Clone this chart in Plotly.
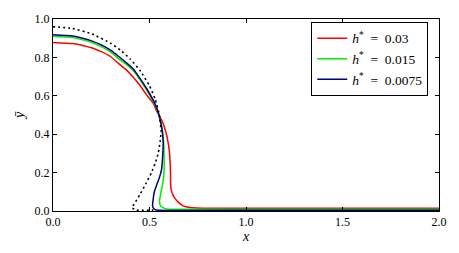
import plotly.graph_objects as go

red_x = [0.0, 0.1, 0.158, 0.2, 0.25, 0.296, 0.339, 0.38, 0.416, 0.45, 0.485, 0.52, 0.537, 0.557, 0.571, 0.585, 0.597,
         0.604, 0.607, 0.609, 0.609, 0.61, 0.614, 0.621, 0.631, 0.65, 0.674, 0.71, 0.743, 0.8, 1.0, 1.5, 2.0]
red_y = [0.878, 0.872, 0.861, 0.85, 0.83, 0.806, 0.769, 0.735, 0.697, 0.655, 0.605, 0.56, 0.521, 0.485, 0.454, 0.41, 0.354,
         0.3, 0.25, 0.2, 0.16, 0.13, 0.105, 0.085, 0.067, 0.045, 0.027, 0.018, 0.015, 0.014, 0.014, 0.014, 0.014]

green_x = [0.0, 0.1, 0.158, 0.2, 0.25, 0.296, 0.339, 0.38, 0.416, 0.485, 0.537, 0.563, 0.573, 0.576, 0.576, 0.57,
           0.557, 0.552, 0.556, 0.563, 0.575, 0.588, 0.62, 1.0, 1.5, 2.0]
green_y = [0.91, 0.903, 0.89, 0.878, 0.856, 0.83, 0.794, 0.763, 0.73, 0.63, 0.535, 0.44, 0.36, 0.27, 0.22, 0.15,
           0.085, 0.052, 0.03, 0.022, 0.015, 0.011, 0.009, 0.009, 0.009, 0.009]

blue_x = [0.0, 0.1, 0.158, 0.2, 0.25, 0.296, 0.339, 0.38, 0.416, 0.485, 0.537, 0.563, 0.571, 0.569, 0.563, 0.55,
          0.537, 0.525, 0.52, 0.516, 0.52, 0.528, 0.55, 1.0, 1.5, 2.0]
blue_y = [0.918, 0.911, 0.898, 0.886, 0.865, 0.839, 0.806, 0.772, 0.739, 0.638, 0.538, 0.437, 0.354, 0.3, 0.22, 0.17,
          0.136, 0.1, 0.069, 0.027, 0.015, 0.008, 0.004, 0.004, 0.004, 0.004]

ref_x = [0.0, 0.1, 0.2, 0.3, 0.35, 0.4, 0.45, 0.5, 0.53, 0.55, 0.56, 0.555, 0.545, 0.53, 0.51,
         0.48, 0.45, 0.42, 0.408, 0.43, 0.52]
ref_y = [0.96, 0.951, 0.923, 0.873, 0.837, 0.792, 0.733, 0.652, 0.581, 0.505, 0.42, 0.36, 0.3, 0.25, 0.2,
         0.14, 0.085, 0.035, 0.019, 0.005, 0.005]

labels = ["<i>h</i><sup>*</sup>\u2002=\u20020.03",
          "<i>h</i><sup>*</sup>\u2002=\u20020.015",
          "<i>h</i><sup>*</sup>\u2002=\u20020.0075"]
colors = ["#ff0000", "#00ee00", "#000080"]

x_ticks = [0.0, 0.5, 1.0, 1.5, 2.0]
y_ticks = [0.0, 0.2, 0.4, 0.6, 0.8, 1.0]

fig = go.Figure()
for xs, ys, lab, col in zip([red_x, green_x, blue_x], [red_y, green_y, blue_y], labels, colors):
    fig.add_trace(go.Scatter(x=xs, y=ys, mode="lines", name=lab,
                             line=dict(color=col, width=1.5, shape="spline", smoothing=0.5)))
fig.add_trace(go.Scatter(x=ref_x, y=ref_y, mode="lines", showlegend=False,
                         line=dict(color="black", width=1.6, dash="2px,3px", shape="spline", smoothing=0.4)))

font_family = "Liberation Serif"
axis_common = dict(showline=True, linecolor="black", linewidth=1, mirror="ticks", ticks="inside",
                   ticklen=4, tickcolor="black", showgrid=False, zeroline=False,
                   tickfont=dict(family=font_family, size=12, color="black"))
fig.update_xaxes(range=[0, 2], tickvals=x_ticks, ticktext=[f"{v:.1f}" for v in x_ticks],
                 title=dict(text="<i>x</i>", font=dict(family=font_family, size=14, color="black"), standoff=2),
                 **axis_common)
fig.update_yaxes(range=[0, 1], tickvals=y_ticks, ticktext=[f"{v:.1f}" for v in y_ticks],
                 title=dict(text="<i>ȳ</i>", font=dict(family=font_family, size=14, color="black"), standoff=6),
                 **axis_common)
fig.update_layout(
    width=459, height=253,
    margin=dict(l=53, r=19, t=15, b=39),
    plot_bgcolor="white", paper_bgcolor="white",
    legend=dict(x=0.669, y=0.985, xanchor="left", yanchor="top", bordercolor="black", borderwidth=1,
                bgcolor="white", font=dict(family=font_family, size=13.5, color="black"),
                tracegroupgap=0, itemwidth=30),
)
fig.write_html("out.html", config={"displayModeBar": False},
               post_script="document.body.style.margin='0';document.body.style.padding='0';")
